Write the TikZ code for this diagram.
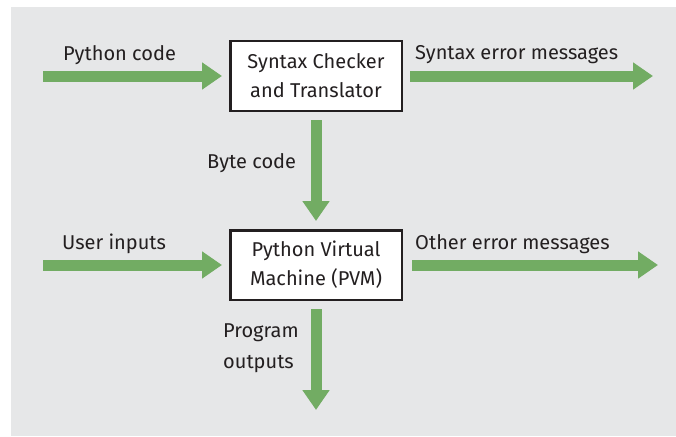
\documentclass[tikz,border=0pt]{standalone}
\usepackage{fontspec}
\setmainfont{Fira Sans}
\usetikzlibrary{arrows.meta}
\definecolor{bggray}{RGB}{230,231,232}
\definecolor{arrgreen}{RGB}{114,172,99}
\definecolor{txt}{RGB}{35,31,32}
\tikzset{
  procbox/.style={draw=txt, line width=2.5pt, fill=white, minimum width=171.5pt, minimum height=69.5pt, align=center, font=\fontsize{20}{29}\selectfont, text=txt, inner sep=0pt},
  flow/.style={draw=arrgreen, line width=11pt, -{Triangle[width=26pt,length=20pt]}},
  lbl/.style={font=\fontsize{20}{31}\selectfont, text=txt, inner sep=0pt, align=left}
}
\begin{document}
\begin{tikzpicture}[x=1pt,y=-1pt]
\useasboundingbox (0,0) rectangle (676,436);
\fill[bggray] (11,7) rectangle (676,436);
\node[procbox] (stc) at (316,76) {Syntax Checker\\and Translator};
\node[procbox] (pvm) at (316,265) {Python Virtual\\Machine (PVM)};
\coordinate (pyin) at (43,77);
\coordinate (synout) at (653,77);
\coordinate (usrin) at (43,266);
\coordinate (othout) at (658,266);
\coordinate (progout) at (316,410);
\draw[flow, shorten >=7pt] (pyin |- stc.west) -- (stc.west);
\draw[flow, shorten <=7pt] (stc.east) -- (synout |- stc.east);
\draw[flow, shorten <=8pt, shorten >=8pt] (stc.south) -- (pvm.north);
\draw[flow, shorten >=7pt] (usrin |- pvm.west) -- (pvm.west);
\draw[flow, shorten <=9pt] (pvm.east) -- (othout |- pvm.east);
\draw[flow, shorten <=8pt] (pvm.south) -- (progout);
\node[lbl, anchor=west] (l1) at (63,55) {Python code};
\node[lbl, anchor=west] (l2) at (415,55) {Syntax error messages};
\node[lbl, anchor=west] (l3) at (207,163) {Byte code};
\node[lbl, anchor=west] (l4) at (62,244) {User inputs};
\node[lbl, anchor=west] (l5) at (415,244) {Other error messages};
\node[lbl, anchor=north west] (l6) at (223,324) {Program\\outputs};
\end{tikzpicture}
\end{document}
